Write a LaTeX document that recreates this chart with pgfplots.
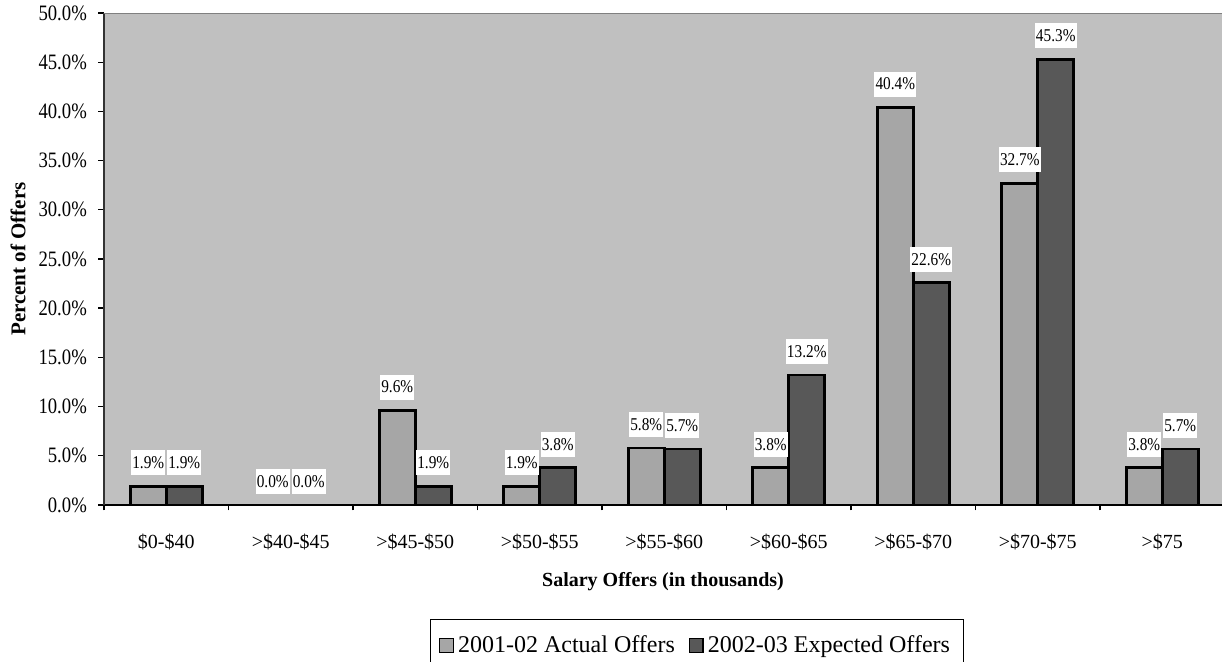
\documentclass[border=0pt]{standalone}
\usepackage{fontspec}
\setmainfont{Liberation Serif}
% condensed cut for the value labels and the percentage ticks
\newfontfamily\narrowserif[FakeStretch=0.85]{Liberation Serif}
\usepackage{pgfplots}
\pgfplotsset{compat=1.18}
\usetikzlibrary{calc}

\definecolor{plotbg}{HTML}{C0C0C0}
\definecolor{actual}{HTML}{A6A6A6}
\definecolor{expected}{HTML}{585858}
\definecolor{frameline}{HTML}{808080}

% small outlined square as legend key
\pgfplotsset{
  square legend/.style={
    legend image code/.code={\draw[##1, line width=0.7pt] (0pt,-3.4pt) rectangle (6.8pt,3.4pt);}
  }
}

\begin{document}
\begin{tikzpicture}
\begin{axis}[
  name=ax,
  scale only axis,
  width=559pt, height=246pt,
  xmin=-0.5, xmax=8.48,
  ymin=0, ymax=50,
  ybar=0pt,
  bar width=0.289,
  axis background/.style={fill=plotbg},
  axis x line*=bottom,
  axis y line*=left,
  x axis line style={black, line width=0.9pt},
  y axis line style={black!80, line width=0.9pt},
  tick align=outside,
  major tick length=2.75pt,
  tick style={black, line width=0.7pt},
  /pgf/number format/assume math mode=true,
  % category boundaries carry the tick marks
  xtick={-0.5,0.5,...,7.5},
  xticklabels={,,,,,,,,},
  % category names sit between the boundaries
  extra x ticks={0,1,2,3,4,5,6,7,8},
  extra x tick labels={\$0-\$40, >\$40-\$45, >\$45-\$50, >\$50-\$55, >\$55-\$60, >\$60-\$65, >\$65-\$70, >\$70-\$75, >\$75},
  extra x tick style={major tick length=0pt},
  x tick label style={font=\fontsize{10pt}{12pt}\selectfont, yshift=-11pt},
  ytick={0,5,...,50},
  yticklabel={\pgfmathprintnumber[fixed,fixed zerofill,precision=1]{\tick}\%},
  y tick label style={font=\narrowserif\fontsize{11pt}{12pt}\selectfont, xshift=-2.3pt},
  xlabel={Salary Offers (in thousands)},
  xlabel style={font=\bfseries\fontsize{10pt}{12pt}\selectfont, at={(axis description cs:0.5,-0.1565)}, anchor=center},
  ylabel={Percent of Offers},
  ylabel style={font=\bfseries\fontsize{10.5pt}{12pt}\selectfont, at={(axis description cs:-0.0769,0.5)}, anchor=center},
  nodes near coords={\pgfmathprintnumber[fixed,fixed zerofill,precision=1]{\pgfplotspointmeta}\%},
  every node near coord/.append style={fill=white, text=black, font=\narrowserif\fontsize{9pt}{10pt}\selectfont, inner xsep=0.6pt, inner ysep=0pt, minimum height=12.5pt, anchor=south, yshift=4.8pt},
  legend columns=-1,
  legend style={at={(axis description cs:0.530,-0.2317)}, anchor=north, draw=black, line width=0.5pt,
    font=\fontsize{12pt}{14pt}\selectfont, inner xsep=4.5pt, inner ysep=6pt,
    /tikz/every even column/.append style={column sep=5pt}},
]
\addplot[fill=actual, draw=black, line width=1.3pt, square legend]
  coordinates {(0,1.9) (1,0.0) (2,9.6) (3,1.9) (4,5.8) (5,3.8) (6,40.4) (7,32.7) (8,3.8)};
\addlegendentry{2001-02 Actual Offers}
\addplot[fill=expected, draw=black, line width=1.3pt, square legend]
  coordinates {(0,1.9) (1,0.0) (2,1.9) (3,3.8) (4,5.7) (5,13.2) (6,22.6) (7,45.3) (8,5.7)};
\addlegendentry{2002-03 Expected Offers}
\draw[frameline, line width=1.4pt] (rel axis cs:0,1) -- (rel axis cs:1,1);
\end{axis}
\pgfresetboundingbox
\path[use as bounding box] ($(ax.south west)+(-52pt,-78.5pt)$) rectangle ($(ax.north east)+(0pt,6.5pt)$);
\end{tikzpicture}
\end{document}
